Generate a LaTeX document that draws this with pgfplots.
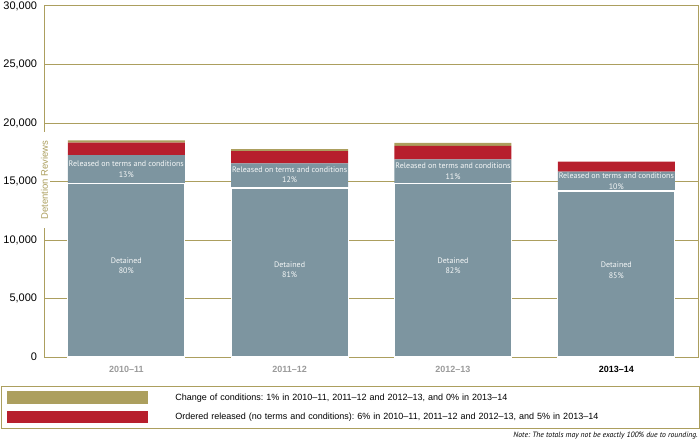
\documentclass[border=0pt]{standalone}
\usepackage{pgfplots}
\pgfplotsset{compat=1.18}
\usepackage{pgfplotstable}
\usepackage{fontspec}
\setmainfont{Liberation Sans}
\setsansfont{PT Sans}
\frenchspacing
\definecolor{gold}{HTML}{AC9F5E}
\definecolor{rred}{HTML}{B71F2D}
\definecolor{slate}{HTML}{7D95A0}
\definecolor{tickgray}{HTML}{9A9A9A}

\pgfplotsset{
    /pgf/number format/1000 sep={,},
    /pgf/number format/assume math mode=true,
    swatch/.style={legend image code/.code={
        \path[draw=none, fill=none] (0pt,-9.75pt) rectangle (168pt,9.75pt);
        \fill[##1,draw=none] (0pt,-6.25pt) rectangle (141pt,6.25pt);
    }},
    samebox/.style={at={(0,0)}, anchor=south west,
        scale only axis, width=653.4pt, height=351pt,
        xmin=-0.5, xmax=3.5, ymin=0, ymax=30000},
}
\tikzset{seglabel/.style={text=white!93!slate, align=center,
        font=\sffamily\fontsize{8}{10.5}\selectfont, inner sep=0pt}}

% detention reviews per year
\pgfplotstableread{
x det rel ord chg
0 14850 2400 1070 190
1 14450 2090 1060 170
2 14850 2050 1140 270
3 14190 1650 850 0
}\reviews

\begin{document}
\begin{tikzpicture}
\path[use as bounding box] (-44.6pt,-85pt) rectangle (655.4pt,357pt);
\begin{axis}[
    samebox,
    ybar stacked, bar width=117pt,
    xtick={0,1,2,3},
    xticklabels={{\color{tickgray}2010–11},{\color{tickgray}2011–12},{\color{tickgray}2012–13},2013–14},
    ytick={0,5000,...,30000},
    scaled y ticks=false,
    major tick length=0pt,
    ymajorgrids,
    grid style={draw=gold, line width=1pt},
    axis line style={draw=gold, line width=1pt},
    yticklabel style={font=\fontsize{11}{13}\selectfont, xshift=-4pt},
    xticklabel style={font=\bfseries\fontsize{9}{11}\selectfont, yshift=-6pt},
    ylabel={Detention Reviews},
    ylabel style={at={(axis description cs:0,0.504)}, anchor=center,
        fill=white, inner xsep=8pt, inner ysep=2pt, text=gold,
        font=\fontsize{9.5}{11}\selectfont},
    reverse legend,
    legend style={at={(axis description cs:0,0)}, anchor=north west,
        xshift=-43.6pt, yshift=-29pt, draw=gold, line width=0.8pt,
        inner xsep=6pt, inner ysep=1.5pt, row sep=0pt, column sep=0pt,
        nodes={font=\fontsize{9}{11}\selectfont, text width=518pt,
            align=left, inner sep=0pt, anchor=west}},
    legend cell align=left,
]
\addplot[fill=slate, draw=white, line width=1.2pt, forget plot] table[x=x, y=det] {\reviews};
\addplot[fill=slate, draw=none, forget plot] table[x=x, y=rel] {\reviews};
\addplot[fill=rred, draw=none, swatch] table[x=x, y=ord] {\reviews};
\addlegendentry{Ordered released (no terms and conditions): 6\% in 2010–11, 2011–12 and 2012–13, and 5\% in 2013–14}
\addplot[fill=gold, draw=none, swatch] table[x=x, y=chg] {\reviews};
\addlegendentry{Change of conditions: 1\% in 2010–11, 2011–12 and 2012–13, and 0\% in 2013–14}
\end{axis}
% segment labels, at the middle of each segment
\begin{axis}[samebox, hide axis]
\addplot[only marks, mark=none, nodes near coords, point meta=explicit symbolic,
    every node near coord/.style={seglabel, anchor=center}]
    table[meta=lab, row sep=\\] {
    x y lab\\
    0 7800 {Detained\\80\%}\\
    1 7450 {Detained\\81\%}\\
    2 7800 {Detained\\82\%}\\
    3 7400 {Detained\\85\%}\\
    0 16050 {Released on terms and conditions\\13\%}\\
    1 15580 {Released on terms and conditions\\12\%}\\
    2 15875 {Released on terms and conditions\\11\%}\\
    3 15015 {Released on terms and conditions\\10\%}\\
    };
\end{axis}
\node[anchor=east, inner sep=0pt, font=\sffamily\itshape\fontsize{7.7}{9}\selectfont]
    at (653.4pt,-79pt) {Note: The totals may not be exactly 100\% due to rounding.};
\end{tikzpicture}
\end{document}
